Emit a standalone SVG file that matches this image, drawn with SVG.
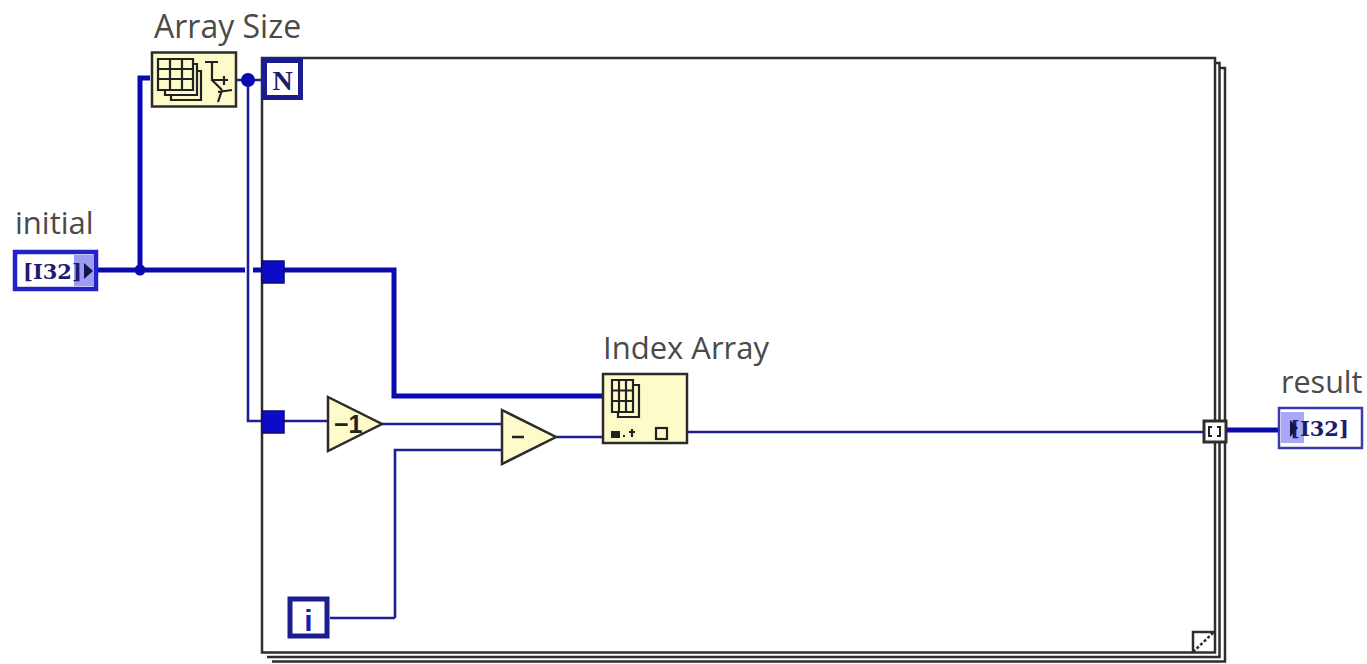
<svg xmlns="http://www.w3.org/2000/svg" width="1367" height="664" viewBox="0 0 1367 664">
<style>
.lbl{font-family:"Open Sans","Noto Sans","DejaVu Sans",sans-serif;font-size:31px;fill:#4a4a4a}
.frame{fill:#fff;stroke:#2e2e2e;stroke-width:2.5}
.fn{fill:#fdfbca;stroke:#2b2b2b;stroke-width:2.5}
.thin{fill:none;stroke:#1f1f8f;stroke-width:2.6}
.thick{fill:none;stroke:#0a0ab0;stroke-width:5}
.icon{fill:none;stroke:#222;stroke-width:2.2}
.term{font-family:"DejaVu Serif",serif;font-weight:bold;font-size:21px;fill:#1c1c70}
.tun{fill:#0c0cc8;stroke:#0a0a70;stroke-width:1.5}
</style>
<rect width="1367" height="664" fill="#fff"/>
<g id="loop">
<path class="frame" d="M272 661.500H1225V68H1219"/>
<path class="frame" d="M267 657H1219.500V63H1214"/>
<rect class="frame" x="262" y="58" width="953" height="594.500"/>
<path d="M1193 652V632H1214" fill="#fff" stroke="#2e2e2e" stroke-width="2.500"/>
<path d="M1193 652L1214 632" fill="none" stroke="#2e2e2e" stroke-width="2.500" stroke-dasharray="3 2"/>
</g>
<g id="connectors">
<path class="thick" d="M96 270H245M253 270H394V396H603"/>
<path class="thick" d="M150 78H140V270"/>
<path class="thin" d="M236 80H262M248 80V421H262"/>
<path class="thin" d="M284 421H328M382 424H502M395 618V450H502M330 618H395M556 437H603M687 432H1204"/>
<path class="thick" d="M1226 430H1279"/>
<circle cx="140" cy="270" r="5.500" fill="#0a0ab0"/>
<circle cx="248" cy="80" r="7" fill="#0a0ab0"/>
</g>
<g id="initial">
<text class="lbl" x="15" y="234">initial</text>
<rect x="15" y="252" width="81" height="37" fill="#fff" stroke="#2222c8" stroke-width="4.500"/>
<rect x="74" y="255" width="20" height="31" fill="#9c9cf4"/>
<text class="term" x="23" y="279">[I32]</text>
<path d="M84 263L93 271L84 279Z" fill="#15154a"/>
</g>
<g id="array-size">
<text class="lbl" x="154" y="38" style="font-size:32px">Array Size</text>
<rect class="fn" x="152" y="52.500" width="84" height="54"/>
<path class="icon" d="M158 59H193V90H158ZM158 69H193M158 79H193M170 59V90M182 59V90M193 64H197V95H165V90M197 71H201V100H171V95"/>
<path class="icon" d="M205 62H218M212 62V80H228M224 76V85M212 80L222 90M218 92L232 90M222 90L218 102"/>
</g>
<g id="n-terminal">
<rect x="264.500" y="60.500" width="36" height="37" fill="#fff" stroke="#1c1c8c" stroke-width="5"/>
<text x="282.500" y="90" text-anchor="middle" font-family="Liberation Serif,serif" font-weight="bold" font-size="28" fill="#1c1c70">N</text>
</g>
<g id="tunnel-array"><rect class="tun" x="262" y="261" width="22" height="22"/></g>
<g id="tunnel-size"><rect class="tun" x="262" y="411" width="22" height="22"/></g>
<g id="decrement">
<path class="fn" d="M328 397L382 424L328 451Z"/>
<text x="334" y="433" font-family="Liberation Sans,sans-serif" font-weight="bold" font-size="25" fill="#222">−1</text>
</g>
<g id="subtract">
<path class="fn" d="M502 410L556 437L502 464Z"/>
<path d="M512 437H524" stroke="#222" stroke-width="2.500"/>
</g>
<g id="index-array">
<text class="lbl" x="603" y="359">Index Array</text>
<rect class="fn" x="603" y="374" width="84" height="69"/>
<path class="icon" d="M612 380H633V412H612ZM612 390.500H633M612 401H633M619 380V412M626 380V412M633 385H639V417H618V412"/>
<rect x="611" y="431" width="9" height="7" fill="#222"/>
<path class="icon" d="M623 436H625M632 429V437M629 432H635" stroke-width="1.800"/>
<rect class="icon" x="656" y="428" width="11" height="11"/>
</g>
<g id="i-terminal">
<rect x="290" y="599" width="37" height="37" fill="#fff" stroke="#1c1c8c" stroke-width="5"/>
<text x="308.500" y="631" text-anchor="middle" font-family="Liberation Sans,sans-serif" font-weight="bold" font-size="30" fill="#1c1cb0">i</text>
</g>
<g id="output-tunnel">
<rect x="1204" y="421" width="22" height="21" fill="#fff" stroke="#2e2e2e" stroke-width="3"/>
<path d="M1212 427H1209V436H1212M1217 427H1220V436H1217" fill="none" stroke="#222" stroke-width="2"/>
</g>
<g id="result">
<text class="lbl" x="1281" y="393" style="font-size:30.500px">result</text>
<rect x="1279" y="408" width="83" height="40" fill="#fff" stroke="#3a3aa8" stroke-width="2.500"/>
<rect x="1281" y="412" width="23" height="31" fill="#a8a8f8"/>
<text class="term" x="1290" y="436">[I32]</text>
<path d="M1290 420L1298 428L1290 437Z" fill="#15154a"/>
</g>
</svg>
